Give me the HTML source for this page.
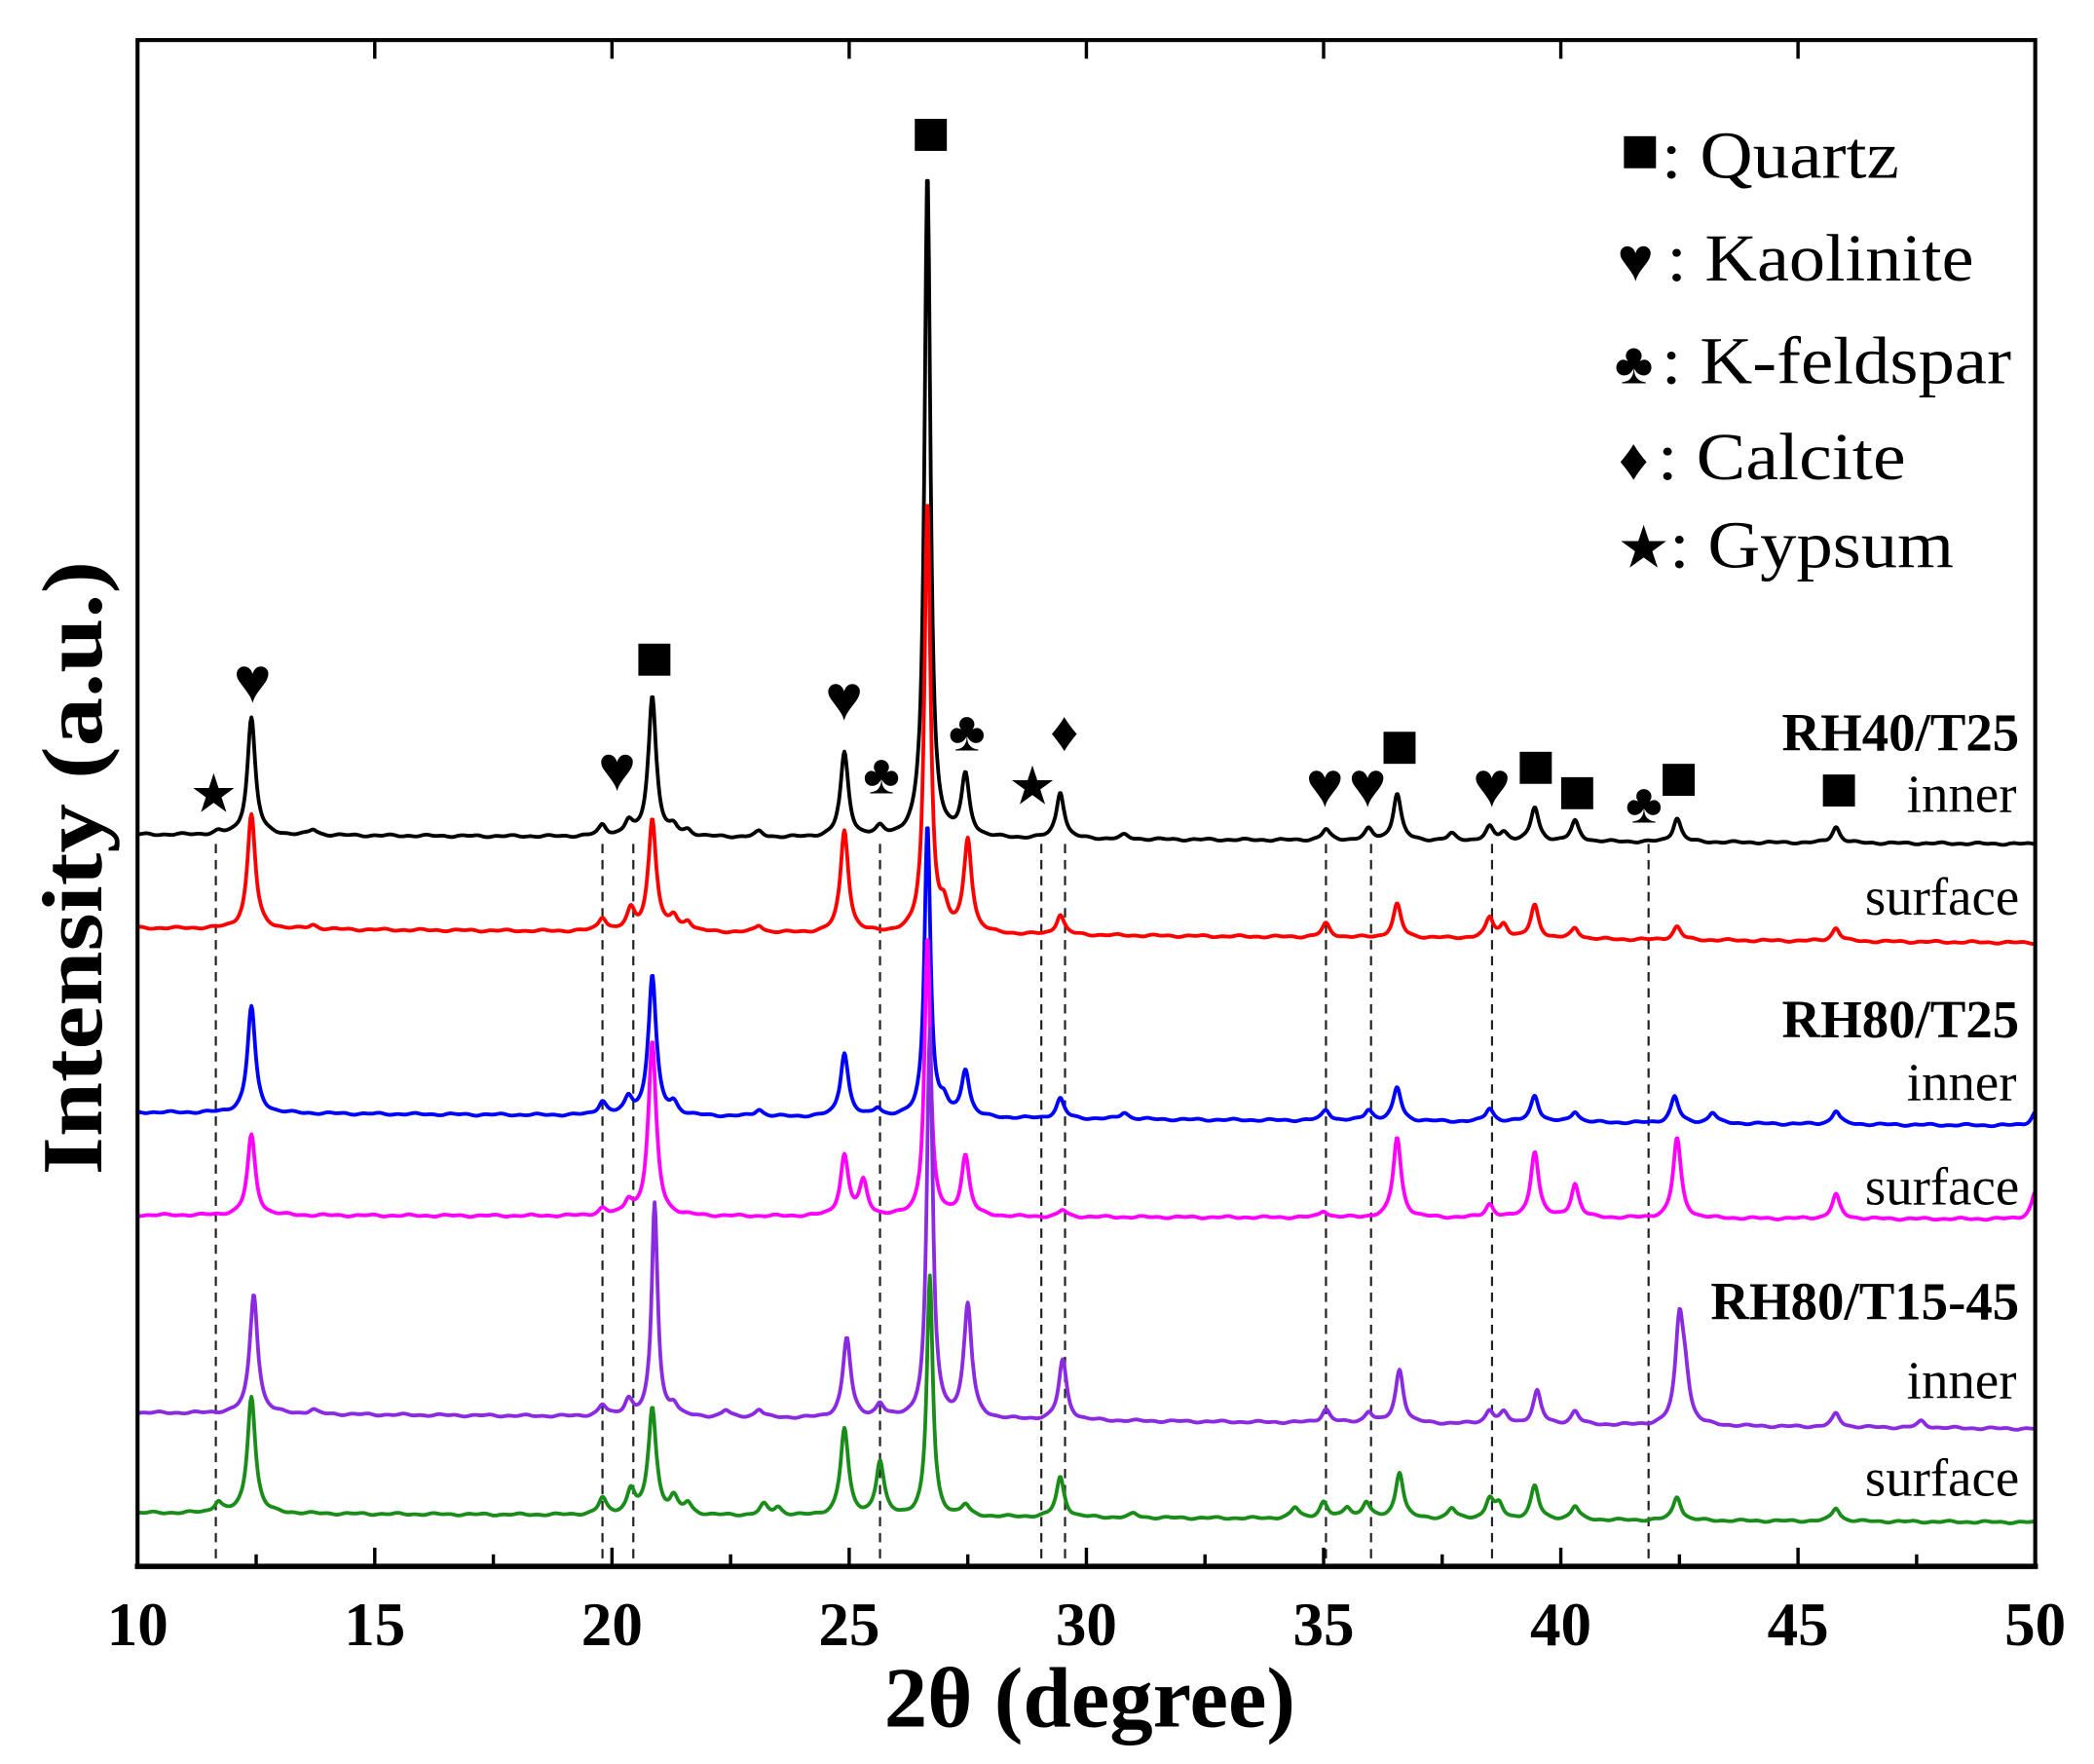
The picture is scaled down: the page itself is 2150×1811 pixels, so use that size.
<!DOCTYPE html>
<html><head><meta charset="utf-8"><style>
html,body{margin:0;padding:0;background:#fff;}
svg{display:block;}
text{font-family:"Liberation Serif",serif;}
</style></head><body>
<svg id="s" width="2150" height="1811" viewBox="0 0 1568 1321" preserveAspectRatio="none" xmlns="http://www.w3.org/2000/svg">
<rect x="0" y="0" width="1568" height="1321" fill="#fff"/>
<g id="dash" stroke="#222" stroke-width="1.6" stroke-dasharray="7,5" fill="none"></g>
<g id="series" fill="none" stroke-width="2.8" stroke-linejoin="round"></g>
<rect x="103" y="30" width="1421" height="1143" fill="none" stroke="#000" stroke-width="3"/>
<line x1="101" y1="1173" x2="1526" y2="1173" stroke="#000" stroke-width="4"/>
<g id="ticks" stroke="#000" stroke-width="2.5"></g>
<g id="tl" font-size="46" font-weight="bold" text-anchor="middle"></g>
<text x="662" y="1293" font-size="64" font-weight="bold" textLength="308" lengthAdjust="spacingAndGlyphs">2θ (degree)</text>
<text transform="translate(76,880) rotate(-90)" font-size="64" font-weight="bold" textLength="460" lengthAdjust="spacingAndGlyphs">Intensity (a.u.)</text>
<g font-size="50">
<rect x="1216" y="102" width="24" height="24" fill="#000"/><text x="1244" y="133" textLength="178" lengthAdjust="spacingAndGlyphs">: Quartz</text>
<text x="1211" y="210" font-size="46">♥</text><text x="1248" y="210" textLength="230" lengthAdjust="spacingAndGlyphs">: Kaolinite</text>
<text x="1209" y="287" font-size="44">♣</text><text x="1244" y="287" textLength="262" lengthAdjust="spacingAndGlyphs">: K-feldspar</text>
<text x="1212" y="359" font-size="44">♦</text><text x="1241" y="359" textLength="186" lengthAdjust="spacingAndGlyphs">: Calcite</text>
<text x="1211" y="425" font-size="44">★</text><text x="1250" y="425" textLength="213" lengthAdjust="spacingAndGlyphs">: Gypsum</text>
</g>
<g font-size="40" text-anchor="end">
<text x="1512" y="562" font-weight="bold">RH40/T25</text>
<text x="1510" y="608">inner</text>
<text x="1512" y="685">surface</text>
<text x="1512" y="777" font-weight="bold">RH80/T25</text>
<text x="1510" y="824">inner</text>
<text x="1512" y="902">surface</text>
<text x="1512" y="988" font-weight="bold">RH80/T15-45</text>
<text x="1510" y="1047">inner</text>
<text x="1512" y="1120">surface</text>
</g>
<g id="marks" text-anchor="middle"></g>
</svg>
<script>
var NS="http://www.w3.org/2000/svg";
function X(d){return 103+(d-10)*35.525;}
function el(p,t,a,txt){var e=document.createElementNS(NS,t);for(var k in a)e.setAttribute(k,a[k]);if(txt)e.textContent=txt;document.getElementById(p).appendChild(e);return e;}
for(var d=10;d<=50;d+=2.5){var maj=(d%5==0);var L=maj?14:9;el("ticks","line",{x1:X(d),y1:1173,x2:X(d),y2:1173-L});if(maj&&d>10&&d<50)el("ticks","line",{x1:X(d),y1:30,x2:X(d),y2:30+L});if(maj)el("tl","text",{x:X(d),y:1232},String(d));}
[11.65,19.8,20.45,25.65,29.05,29.55,35.05,36.0,38.55,41.85].forEach(function(d){el("dash","line",{x1:X(d),y1:632,x2:X(d),y2:1173});});
var S=[
{c:"#000",b0:625,b1:632,p:[[11.7,2],[12.4,88],[13.7,4],[19.8,8],[20.35,10],[20.85,105],[21.3,6],[21.6,4],[23.1,4],[24.9,63],[25.65,6],[26.65,500],[27.45,45],[29.45,35],[30.8,3],[35.05,8],[35.95,8],[36.55,35],[37.7,5],[38.5,10],[38.8,6],[39.45,25],[40.3,15],[42.45,18],[45.8,12]]},
{c:"#f00",b0:695,b1:706,p:[[12.4,86],[13.7,3],[19.8,10],[20.4,15],[20.85,84],[21.3,10],[21.6,7],[23.1,5],[24.9,77],[26.65,324],[27.0,15],[27.5,70],[29.45,15],[35.05,10],[36.55,25],[38.5,15],[38.8,10],[39.45,25],[40.3,8],[42.45,10],[45.8,10]]},
{c:"#00f",b0:833,b1:843,p:[[12.4,80],[19.8,10],[20.35,12],[20.85,105],[21.3,8],[23.1,5],[24.9,48],[25.6,6],[26.65,220],[27.0,10],[27.45,35],[29.45,15],[30.8,5],[35.05,8],[35.95,8],[36.55,25],[38.5,10],[39.45,20],[40.3,8],[42.4,20],[43.2,8],[45.8,10],[50,10]]},
{c:"#f0f",b0:910,b1:913,p:[[12.4,60],[19.8,5],[20.35,10],[20.85,130],[24.9,45],[25.3,25],[26.65,210],[27.45,45],[29.5,5],[35.0,5],[36.55,60],[38.5,10],[39.45,50],[40.3,25],[42.45,60],[45.8,18],[50,20]]},
{c:"#8a2be2",b0:1058,b1:1070,p:[[12.45,90],[13.7,3],[19.8,8],[20.35,12],[20.9,160],[21.3,8],[22.4,5],[23.1,6],[24.95,60],[25.65,10],[26.7,290],[27.5,85],[29.5,45],[35.05,10],[35.95,8],[36.6,40],[38.5,10],[38.8,8],[39.5,25],[40.3,10],[42.5,75],[42.62,30],[45.8,10],[47.6,5]]},
{c:"#1a8c1a",b0:1133,b1:1140,p:[[11.7,8],[12.4,88],[19.8,12],[20.4,18],[20.85,80],[21.3,12],[21.6,8],[23.2,8],[23.5,6],[24.9,65],[25.65,40],[26.7,180],[27.45,8],[29.45,30],[31,3],[34.4,8],[35.0,12],[35.5,8],[35.9,12],[36.6,35],[37.7,8],[38.5,15],[38.7,10],[39.45,25],[40.3,10],[42.45,18],[45.8,10]]}
];
S.forEach(function(s,si){var d="";for(var t=10;t<=50.0001;t+=0.02){var y=s.b0+(s.b1-s.b0)*(t-10)/40;var h=0;s.p.forEach(function(q){var w=q[1]>150?0.075:0.1;var u=(t-q[0])/w;h+=q[1]/(1+u*u);});y-=h;y+=0.5*Math.sin(t*7.3+si)+0.4*Math.sin(t*17.1+2*si);d+=(d?"L":"M")+X(t).toFixed(1)+","+y.toFixed(1);}
el("series","path",{d:d,stroke:s.c});});
function sq(x,y){el("marks","rect",{x:x-12,y:y-12,width:24,height:24,fill:"#000"});}
function g(x,y,c,fs){el("marks","text",{x:x,y:y+14,"font-size":fs||42},c);}
g(160,594,"★",40);g(189,512,"♥",48);g(462,578,"♥",48);sq(490,494);g(632,525,"♥",48);g(660,580,"♣");sq(697,101);g(724,548,"♣");g(773,588,"★",40);g(797,548,"♦");g(992,590,"♥",48);g(1024,590,"♥",48);sq(1048,560);g(1117,590,"♥",48);sq(1150,575);sq(1181,594);g(1231,602,"♣");sq(1257,584);sq(1377,592);
</script>
</body></html>
